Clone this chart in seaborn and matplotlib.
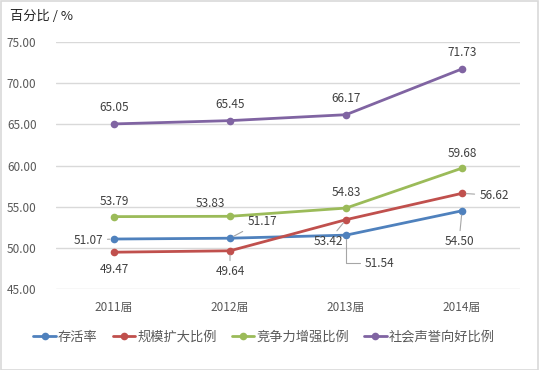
import matplotlib
matplotlib.use("Agg")
import matplotlib.pyplot as plt
import seaborn as sns
import pandas as pd
from matplotlib.patches import Rectangle

# ---- data ----
years = ["2011届", "2012届", "2013届", "2014届"]
survival = [51.07, 51.17, 51.54, 54.50]
expansion = [49.47, 49.64, 53.42, 56.62]
competitive = [53.79, 53.83, 54.83, 59.68]
reputation = [65.05, 65.45, 66.17, 71.73]
series_names = ["存活率", "规模扩大比例", "竞争力增强比例", "社会声誉向好比例"]
y_ticks = [45, 50, 55, 60, 65, 70, 75]

colors = ["#4F81BD", "#C0504D", "#9BBB59", "#8064A2"]

sns.set_theme(style="white")
plt.rcParams["font.family"] = ["Noto Sans CJK SC", "DejaVu Sans"]

rows = []
for name, vals in zip(series_names, [survival, expansion, competitive, reputation]):
    for i, (y, v) in enumerate(zip(years, vals)):
        rows.append({"x": i, "year": y, "value": v, "series": name})
df = pd.DataFrame(rows)

fig = plt.figure(figsize=(5.39, 3.70), dpi=100)
ax = fig.add_axes([56 / 539, 1 - 289 / 370, 464 / 539, 247 / 370])

sns.lineplot(data=df, x="x", y="value", hue="series", hue_order=series_names,
             palette=colors, marker="o", markersize=5.5, markeredgewidth=0,
             linewidth=2, ax=ax, legend=True)

ax.set_xlim(-0.5, 3.5)
ax.set_ylim(45, 75)
ax.set_yticks(y_ticks)
ax.set_yticklabels([f"{t:.2f}" for t in y_ticks])
ax.set_xticks(range(len(years)))
ax.set_xticklabels(years)
ax.set_xlabel("")
ax.set_ylabel("")
ax.grid(axis="y", color="#D9D9D9", linewidth=1)
ax.set_axisbelow(True)
for s in ax.spines.values():
    s.set_visible(False)
ax.tick_params(axis="both", length=0, labelsize=8.5, labelcolor="#595959")
ax.tick_params(axis="y", pad=14)
ax.tick_params(axis="x", pad=9)

# data labels: (series values, offsets in pixels, leader style)
label_specs = [
    (reputation, [(0, 16), (0, 16), (0, 16), (0, 16)], [None] * 4),
    (competitive, [(0, 15), (-20, 13), (0, 16), (0, 15)], [None] * 4),
    (survival, [(-26, -1), (32, 17), (33, -28), (-3, -31)],
     ["arc3", "arc3", "angle,angleA=0,angleB=90,rad=0", "arc3"]),
    (expansion, [(0, -17), (0, -21), (-18, -22), (32, -2)],
     [None, "arc3", "arc3", "arc3"]),
]
for vals, offs, leaders in label_specs:
    for i, (v, off, ld) in enumerate(zip(vals, offs, leaders)):
        arrow = None
        if ld is not None:
            arrow = dict(arrowstyle="-", color="#A6A6A6", lw=0.8, shrinkA=1,
                         shrinkB=3, connectionstyle=ld)
        ax.annotate(f"{v:.2f}", xy=(i, v), xytext=off, textcoords="offset pixels",
                    ha="center", va="center", fontsize=8.5, color="#404040",
                    arrowprops=arrow)

leg = ax.legend(loc="center", bbox_to_anchor=(264 / 539, 1 - 337 / 370),
                bbox_transform=fig.transFigure, ncol=4, frameon=False,
                fontsize=9.5, handlelength=1.7, handletextpad=0.15,
                columnspacing=1.15, labelcolor="#595959")

fig.text(10 / 539, 1 - 16 / 370, "百分比 / %", fontsize=9.5, color="#262626",
         ha="left", va="center")

fig.patches.append(Rectangle((0.001, 0.001), 0.997, 0.996, transform=fig.transFigure,
                             fill=False, edgecolor="#D9D9D9", linewidth=1.2))

fig.savefig("out.png", dpi=100)
